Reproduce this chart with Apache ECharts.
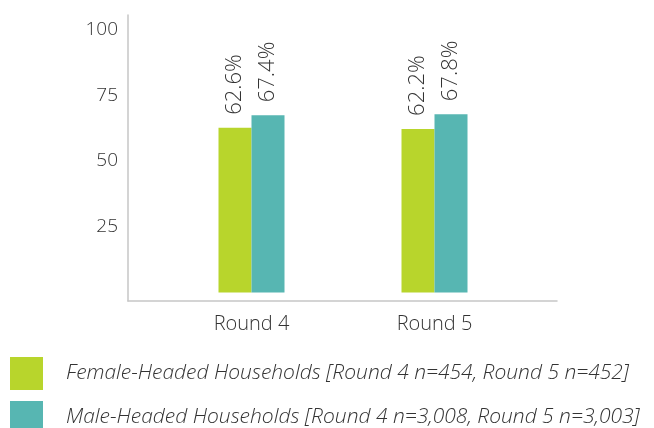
<!DOCTYPE html>
<html>
<head>
<meta charset="utf-8">
<script src="https://cdn.jsdelivr.net/npm/echarts@6/dist/echarts.min.js"></script>
<style>
  html, body { margin: 0; padding: 0; background: #fff; }
  #chart { width: 654px; height: 428px; }
</style>
</head>
<body>
<div id="chart"></div>
<script>
// Survey rounds on the x axis
const categories = ['Round 4', 'Round 5'];
// Share of households (%) by head of household
const femaleValues = [62.6, 62.2];
const maleValues = [67.4, 67.8];
const seriesNames = [
  'Female-Headed Households [Round 4 n=454, Round 5 n=452]',
  'Male-Headed Households [Round 4 n=3,008, Round 5 n=3,003]'
];
const yTickLabels = [25, 50, 75, 100];

const FONT = '"Open Sans", "Noto Sans", sans-serif';
const TEXT = '#333333';
const AXIS = '#c6c6c6';
const GREEN = '#b8d52c';
const TEAL = '#57b6b2';
const Y_MIN = -3.2, Y_MAX = 105.5;

const chart = echarts.init(document.getElementById('chart'), null, { renderer: 'canvas' });

const labelStyle = {
  show: true,
  position: 'top',
  rotate: 90,
  align: 'left',
  verticalAlign: 'middle',
  distance: 13,
  fontFamily: FONT,
  fontWeight: 300,
  fontSize: 22,
  color: TEXT,
  formatter: p => p.value.toFixed(1) + '%'
};

chart.setOption({
  animation: false,
  backgroundColor: '#ffffff',
  grid: [
    // frame grid: carries the axis lines and value labels
    { left: 128, right: 97, top: 15, bottom: 127 },
    // bar grid: narrower so the groups sit where they belong
    { left: 160, right: 128, top: 15, bottom: 127 }
  ],
  xAxis: [
    {
      gridIndex: 0, type: 'category', data: categories,
      axisLine: { show: true, onZero: false, lineStyle: { color: AXIS, width: 1.5 } },
      axisTick: { show: false }, axisLabel: { show: false }, splitLine: { show: false }
    },
    {
      gridIndex: 1, type: 'category', data: categories,
      axisLine: { show: false, onZero: false }, axisTick: { show: false },
      axisLabel: { show: true, margin: 13, fontFamily: FONT, fontWeight: 300, fontSize: 20, color: TEXT }
    }
  ],
  yAxis: [
    {
      gridIndex: 0, type: 'value', min: Y_MIN, max: Y_MAX,
      axisLine: { show: true, lineStyle: { color: AXIS, width: 1.5 } },
      axisTick: { show: false },
      splitLine: { show: false },
      axisLabel: {
        show: true, customValues: yTickLabels, margin: 10,
        fontFamily: FONT, fontWeight: 300, fontSize: 19, color: TEXT
      }
    },
    {
      gridIndex: 1, type: 'value', min: Y_MIN, max: Y_MAX, show: false,
      splitLine: { show: false }
    }
  ],
  legend: {
    orient: 'vertical',
    left: 10,
    top: 357,
    height: 200,
    padding: 0,
    itemWidth: 33,
    itemHeight: 33,
    itemGap: 11,
    icon: 'rect',
    selectedMode: false,
    textStyle: {
      fontFamily: FONT, fontWeight: 300, fontStyle: 'italic', fontSize: 21, color: TEXT,
      padding: [0, 0, 0, 18]
    },
    data: seriesNames
  },
  series: [
    {
      name: seriesNames[0], type: 'bar', xAxisIndex: 1, yAxisIndex: 1,
      data: femaleValues, barWidth: 33, barGap: '0%',
      itemStyle: { color: GREEN }, label: labelStyle
    },
    {
      name: seriesNames[1], type: 'bar', xAxisIndex: 1, yAxisIndex: 1,
      data: maleValues, barWidth: 33, barGap: '0%',
      itemStyle: { color: TEAL }, label: labelStyle
    }
  ]
});
</script>
</body>
</html>
